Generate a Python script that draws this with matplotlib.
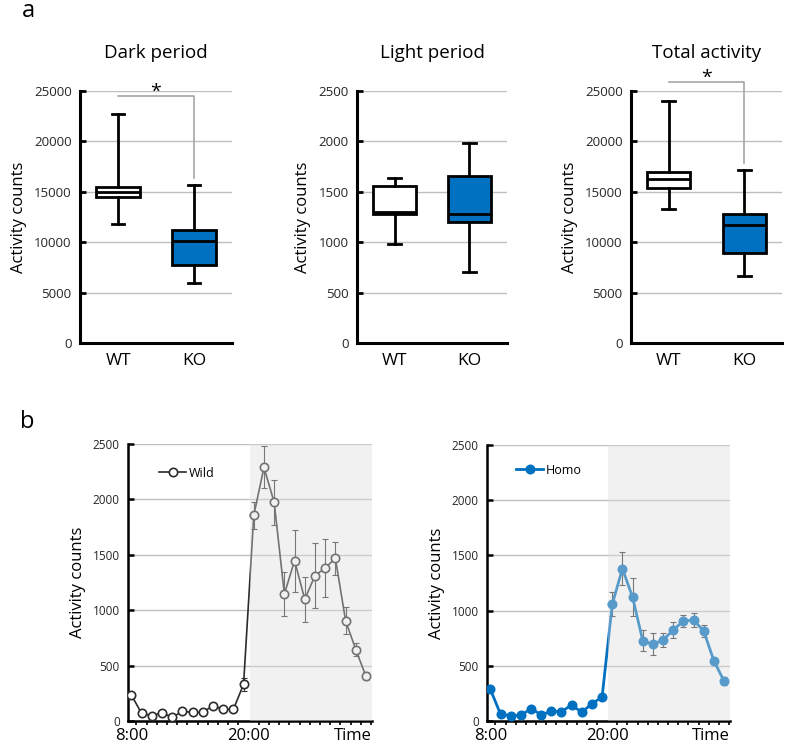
import matplotlib.pyplot as plt
import numpy as np

plt.rcParams['font.family'] = ['Open Sans', 'DejaVu Sans']

# box plot data (whisker low, Q1, median, Q3, whisker high)
groups = ["WT", "KO"]
dark_stats = [[11800, 14500, 15000, 15500, 22700],
              [5950, 7700, 10100, 11200, 15700]]
light_stats = [[980, 1280, 1300, 1560, 1640],
               [700, 1200, 1280, 1660, 1980]]
total_stats = [[13300, 15400, 16300, 17000, 24000],
               [6600, 8900, 11700, 12800, 17200]]

# hourly activity, 8:00 .. 7:00 next day
wild_mean = [235, 69, 48, 75, 33, 87, 78, 78, 138, 105, 105, 331,
             1856, 2289, 1973, 1146, 1447, 1098, 1312, 1381, 1468, 906, 644, 403]
wild_err = [30, 15, 10, 12, 8, 15, 12, 12, 25, 15, 15, 60,
            120, 190, 205, 195, 280, 205, 290, 260, 150, 125, 57, 35]
homo_mean = [287, 63, 48, 51, 112, 57, 88, 85, 145, 79, 157, 217,
             1057, 1380, 1121, 728, 694, 734, 824, 906, 915, 815, 546, 362]
homo_err = [25, 15, 10, 10, 15, 10, 12, 12, 15, 12, 15, 20,
            110, 150, 170, 95, 100, 60, 75, 55, 65, 55, 20, 40]
time_labels = ["8:00", "20:00"]

W, H = 787, 747
fig = plt.figure(figsize=(W / 100, H / 100), dpi=100)


def px_axes(x0, y0, x1, y1):
    return fig.add_axes([x0 / W, 1 - y1 / H, (x1 - x0) / W, (y1 - y0) / H])


def style_axes(ax, lw):
    for s in ["top", "right"]:
        ax.spines[s].set_visible(False)
    for s in ["left", "bottom"]:
        ax.spines[s].set_linewidth(lw)
        ax.spines[s].set_color("black")
    ax.yaxis.grid(True, color="#bfbfbf", lw=1)
    ax.set_axisbelow(True)


def box_panel(ax, stats, title, top):
    style_axes(ax, 2.2)
    bx = [dict(whislo=s[0], q1=s[1], med=s[2], q3=s[3], whishi=s[4], fliers=[])
          for s in stats]
    res = ax.bxp(bx, positions=[1, 2], widths=0.57, patch_artist=True,
                 boxprops=dict(lw=2, edgecolor="black"),
                 medianprops=dict(lw=2, color="black"),
                 whiskerprops=dict(lw=2, color="black"),
                 capprops=dict(lw=2, color="black"), capwidths=0.17)
    res["boxes"][0].set_facecolor("white")
    res["boxes"][1].set_facecolor("#0070C0")
    ax.set_xlim(0.5, 2.5)
    ax.set_ylim(0, top)
    ax.set_yticks(np.linspace(0, top, 6))
    ax.set_xticks([1, 2], groups)
    ax.tick_params(axis="x", length=0, pad=7, labelsize=12.5)
    ax.tick_params(axis="y", direction="in", length=4, width=2, labelsize=9.5,
                   labelcolor="#262626", pad=6)
    ax.set_ylabel("Activity counts", fontsize=12, labelpad=5)
    ax.set_title(title, fontsize=13.5, pad=24)


def bracket(ax, y, ybot):
    ax.plot([1, 2, 2], [y, y, ybot], color="#a6a6a6", lw=1.2, clip_on=False)
    ax.text(1.5, y - 500, "*", ha="center", va="bottom", fontsize=14)


ax1 = px_axes(80, 91, 232, 343)
box_panel(ax1, dark_stats, "Dark period", 25000)
bracket(ax1, 24500, 16400)

ax2 = px_axes(357, 91, 507, 343)
box_panel(ax2, light_stats, "Light period", 2500)

ax3 = px_axes(631, 91, 782, 343)
box_panel(ax3, total_stats, "Total activity", 25000)
bracket(ax3, 25900, 17900)


def time_panel(ax, mean, err, color, label, mfc, lw, leg_xy):
    style_axes(ax, 1.8)
    x = np.arange(len(mean))
    ax.errorbar(x, mean, yerr=err, fmt="none", ecolor="#333333", elinewidth=0.8,
                capsize=2.5, capthick=0.8, zorder=3)
    ax.plot(x, mean, "-o", color=color, lw=lw, ms=6, mfc=mfc, mec=color,
            mew=1.2, label=label, zorder=4)
    ax.set_xlim(-0.33, 23.59)
    ax.set_ylim(0, 2500)
    ax.axvspan(11.6, 23.59, color="#dedede", alpha=0.4, lw=0, zorder=5)
    ax.set_yticks(np.arange(0, 2501, 500))
    ax.set_xticks([0, 11.5], time_labels)
    ax.set_xticks(np.arange(0.5, 23.6, 1), minor=True)
    ax.tick_params(axis="x", which="major", length=0, pad=5, labelsize=12)
    ax.tick_params(axis="x", which="minor", direction="out", length=3, width=1.2)
    ax.tick_params(axis="y", direction="in", length=4, width=1.8, labelsize=8.5,
                   labelcolor="#262626", pad=6)
    ax.annotate("Time", xy=(1, 0), xycoords="axes fraction", xytext=(0, -5),
                textcoords="offset points", ha="right", va="top", fontsize=12)
    ax.legend(loc="center left", bbox_to_anchor=leg_xy, frameon=False,
              borderpad=0, borderaxespad=0, handlelength=2.2, handletextpad=0.2,
              fontsize=9)
    ax.set_ylabel("Activity counts", fontsize=12, labelpad=5)


ax4 = px_axes(128, 444, 372, 721)
time_panel(ax4, wild_mean, wild_err, "#2b2b2b", "Wild", "white", 1.2, (0.127, 0.895))

ax5 = px_axes(487, 445, 730, 721)
time_panel(ax5, homo_mean, homo_err, "#0070C0", "Homo", "#0070C0", 2, (0.119, 0.909))

fig.text(22 / W, 1 - 17 / H, "a", fontsize=17, va="baseline")
fig.text(20 / W, 1 - 428 / H, "b", fontsize=17, va="baseline")

fig.savefig("out.png", dpi=100)
